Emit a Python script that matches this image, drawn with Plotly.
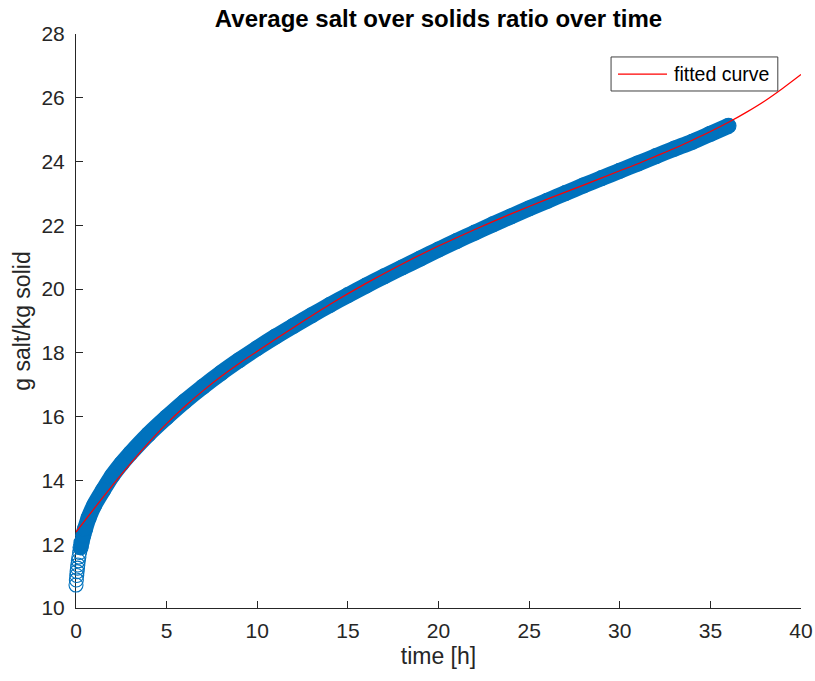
import plotly.graph_objects as go

# Measured data (blue circles): time [h] and g salt / kg solid
time_h = [0, 0.02, 0.04, 0.06, 0.08, 0.1, 0.13, 0.16, 0.2, 0.25, 0.3, 0.4, 0.5, 0.7, 1, 1.5,
          2, 2.5, 3, 4, 5, 6, 7, 8, 9, 10, 11, 12, 13, 14, 15, 16, 17, 18, 19, 20, 21, 22,
          23, 24, 25, 26, 27, 28, 29, 30, 31, 32, 33, 34, 35, 36]
salt_ratio = [10.72, 10.88, 11.02, 11.14, 11.25, 11.35, 11.48, 11.60, 11.74, 11.90, 12.05,
              12.28, 12.48, 12.83, 13.22, 13.70, 14.15, 14.52, 14.85, 15.45, 15.98, 16.48,
              16.94, 17.37, 17.77, 18.15, 18.51, 18.85, 19.18, 19.50, 19.81, 20.11, 20.40,
              20.68, 20.96, 21.24, 21.51, 21.77, 22.03, 22.28, 22.53, 22.77, 23.01, 23.25,
              23.48, 23.71, 23.94, 24.17, 24.40, 24.62, 24.87, 25.12]

# Fitted curve (red line)
fit_time = [0, 1, 2, 3, 4, 5, 6, 7, 8, 9, 10, 12, 14, 16, 18, 20, 22, 24, 26, 28, 30, 31,
            32, 33, 34, 35, 36, 37, 38, 39, 40]
fit_ratio = [12.38, 13.12, 13.84, 14.53, 15.18, 15.78, 16.32, 16.81, 17.26, 17.67, 18.05,
             18.80, 19.52, 20.18, 20.79, 21.35, 21.87, 22.36, 22.82, 23.26, 23.71, 23.93,
             24.17, 24.41, 24.67, 24.94, 25.23, 25.55, 25.90, 26.30, 26.73]

x_ticks = [0, 5, 10, 15, 20, 25, 30, 35, 40]
y_ticks = [10, 12, 14, 16, 18, 20, 22, 24, 26, 28]
legend_label = "fitted curve"

BLUE = "#0072BD"
RED = "#FF0000"
AX = "#262626"
FONT = "Liberation Sans, Arial, Helvetica, sans-serif"

band_start = 9  # from here on the circles overlap into a solid band

n = len(time_h)
symbols = ["circle-open" if i < band_start else "circle" for i in range(n)]
sizes = [14 if i < band_start else 15 for i in range(n)]

fig = go.Figure()
fig.add_trace(go.Scatter(
    x=time_h[band_start:], y=salt_ratio[band_start:], mode="lines",
    line=dict(color=BLUE, width=16, shape="spline", smoothing=0.8),
    showlegend=False, hoverinfo="skip", cliponaxis=False))
fig.add_trace(go.Scatter(
    x=time_h, y=salt_ratio, mode="markers",
    marker=dict(symbol=symbols, size=sizes, color=BLUE, opacity=1,
                line=dict(width=1.1, color=BLUE)),
    showlegend=False, hoverinfo="skip", cliponaxis=False))
fig.add_trace(go.Scatter(
    x=fit_time, y=fit_ratio, mode="lines", name=legend_label,
    line=dict(color=RED, width=1.2, shape="spline", smoothing=0.6),
    showlegend=False, hoverinfo="skip"))

# Legend box drawn in MATLAB style (paper coordinates of the plot area)
fig.add_shape(type="rect", xref="paper", yref="paper", x0=0.738, x1=0.968, y0=0.9007, y1=0.960,
              line=dict(color="#404040", width=1), fillcolor="white", layer="above")
fig.add_shape(type="line", xref="paper", yref="paper", x0=0.7476, x1=0.8152, y0=0.930, y1=0.930,
              line=dict(color=RED, width=1.2), layer="above")
fig.add_annotation(text=legend_label, xref="paper", yref="paper", x=0.822, y=0.930,
                   xanchor="left", yanchor="middle", showarrow=False,
                   font=dict(family=FONT, size=19.5, color="black"))

fig.update_layout(
    width=815, height=681,
    margin=dict(l=76, r=14, t=34, b=73, autoexpand=False),
    paper_bgcolor="white", plot_bgcolor="white",
    font=dict(family=FONT, color=AX),
    showlegend=False,
    title=dict(text="Average salt over solids ratio over time",
               font=dict(family=FONT, size=24, color="black", weight="bold"),
               x=0.5, xref="paper", xanchor="center",
               y=0.972, yref="container", yanchor="middle"),
    xaxis=dict(range=[0, 40], tickvals=x_ticks, ticks="inside", ticklen=7, tickwidth=1,
               tickcolor=AX, showline=True, linecolor=AX, linewidth=1, mirror=False,
               showgrid=False, zeroline=False, tickfont=dict(size=21, color=AX),
               ticklabelstandoff=4, automargin=False, layer="below traces",
               title=dict(text="time [h]", font=dict(size=23, color=AX), standoff=6)),
    yaxis=dict(range=[10, 28], tickvals=y_ticks, ticks="inside", ticklen=7, tickwidth=1,
               tickcolor=AX, showline=True, linecolor=AX, linewidth=1, mirror=False,
               showgrid=False, zeroline=False, tickfont=dict(size=21, color=AX),
               ticklabelstandoff=6, automargin=False, layer="below traces",
               title=dict(text="g salt/kg solid", font=dict(size=23, color=AX), standoff=4)),
)

fig.write_html("out.html")
